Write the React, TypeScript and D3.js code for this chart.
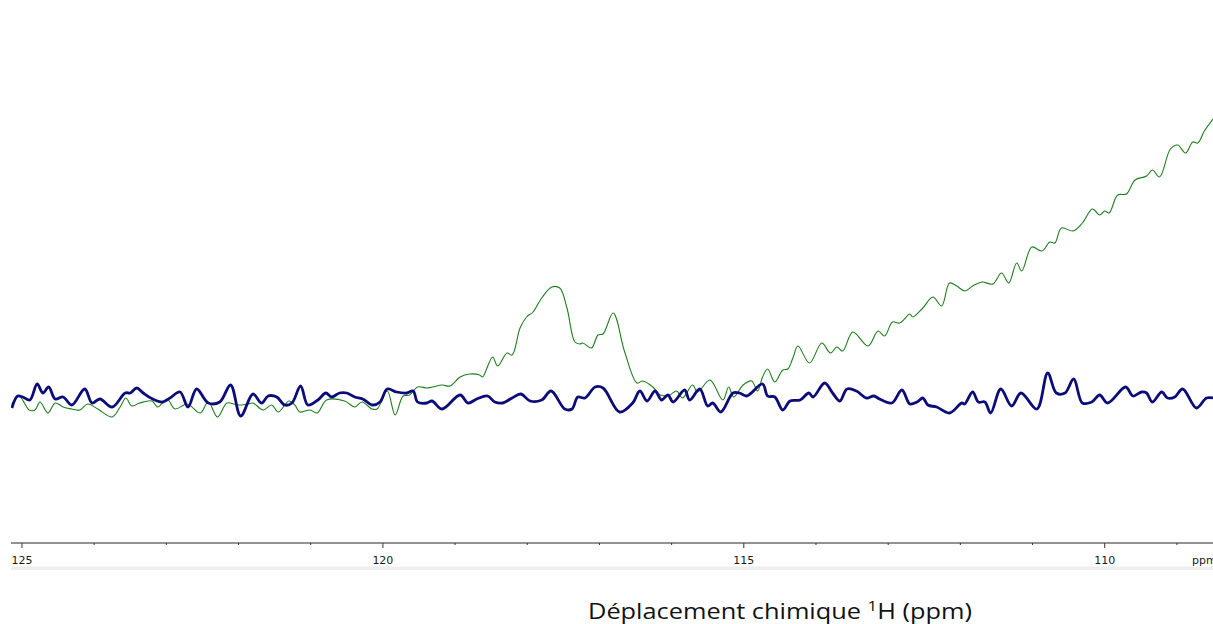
import React from "react";
import * as d3 from "d3";

// Chemical shift axis ticks (ppm)
const majorTicks = [125, 120, 115, 110];
const minorTicks = [124, 123, 122, 121, 119, 118, 117, 116, 114, 113, 112, 111, 109];

// Navy trace (ppm, intensity)
const bluePpm = [125.14, 125.06, 124.99, 124.89, 124.79, 124.71, 124.63, 124.54, 124.43, 124.31, 124.13, 124.03, 123.92, 123.75, 123.57, 123.5, 123.41, 123.32, 123.19, 123.05, 122.95, 122.81, 122.7, 122.58, 122.42, 122.26, 122.11, 121.97, 121.8, 121.68, 121.59, 121.47, 121.36, 121.26, 121.14, 121.04, 120.9, 120.79, 120.71, 120.6, 120.5, 120.39, 120.28, 120.14, 120.04, 119.94, 119.81, 119.67, 119.58, 119.52, 119.39, 119.32, 119.18, 118.93, 118.82, 118.7, 118.55, 118.45, 118.34, 118.21, 118.09, 117.96, 117.8, 117.67, 117.48, 117.38, 117.3, 117.2, 117.06, 116.95, 116.72, 116.54, 116.44, 116.34, 116.23, 116.14, 116.05, 115.98, 115.82, 115.75, 115.61, 115.5, 115.43, 115.32, 115.15, 115.06, 114.96, 114.74, 114.67, 114.57, 114.46, 114.36, 114.22, 114.1, 114.04, 113.88, 113.77, 113.67, 113.57, 113.44, 113.3, 113.2, 113.12, 112.95, 112.81, 112.7, 112.6, 112.52, 112.45, 112.33, 112.15, 111.98, 111.94, 111.83, 111.75, 111.66, 111.58, 111.44, 111.29, 111.16, 110.94, 110.79, 110.67, 110.55, 110.43, 110.31, 110.18, 110.07, 109.96, 109.71, 109.61, 109.49, 109.42, 109.34, 109.21, 109.13, 109.03, 108.92, 108.73, 108.59, 108.5];
const blueInt = [-8, 4, 3, 0, 16, 7, 13, 1, 3, -5, 11, -3, 1, -7, 7, 7, 12, 7, 1, -2, 2, 8, -7, 11, -3, -2, 15, -16, 6, -3, 4, 3, -5, -3, 14, -5, 0, 7, 3, 7, 7, 3, 1, -5, -2, 11, 8, 7, 9, -2, -3, -1, -9, 5, -3, 1, 4, -2, -3, 2, 6, -1, 0, 9, -9, -9, 3, 2, 13, 12, -12, -3, 9, -1, 9, 0, 5, -2, 10, 0, 11, -6, -3, -12, 7, 7, 4, 16, 4, 3, -10, -1, 0, 7, 3, 17, 7, -1, 11, 9, 2, 4, 1, -3, 10, -4, -2, 2, -5, -7, -13, -3, -4, 8, -2, -2, -13, 11, -6, 7, -9, 27, 7, 7, 21, -3, -2, 5, -3, 13, 4, 8, 7, -2, 8, 2, 3, 11, -8, 2, 2];

// Green trace (ppm, intensity)
const greenPpm = [125.14, 125.04, 124.9, 124.82, 124.75, 124.64, 124.54, 124.43, 124.31, 124.2, 124.09, 123.95, 123.75, 123.64, 123.56, 123.48, 123.37, 123.2, 123.12, 122.99, 122.88, 122.71, 122.53, 122.42, 122.29, 122.16, 122.02, 121.87, 121.8, 121.66, 121.54, 121.45, 121.3, 121.22, 121.15, 121.01, 120.91, 120.78, 120.53, 120.39, 120.29, 120.15, 120.08, 119.94, 119.83, 119.72, 119.63, 119.52, 119.39, 119.31, 119.18, 119.07, 118.93, 118.8, 118.66, 118.62, 118.48, 118.41, 118.28, 118.21, 118.1, 118.01, 117.92, 117.8, 117.66, 117.55, 117.45, 117.34, 117.27, 117.23, 117.11, 117.02, 116.95, 116.81, 116.65, 116.48, 116.4, 116.26, 116.16, 116.03, 115.93, 115.85, 115.71, 115.64, 115.47, 115.29, 115.21, 115.14, 115.01, 114.89, 114.81, 114.74, 114.67, 114.57, 114.46, 114.39, 114.32, 114.25, 114.09, 113.92, 113.8, 113.71, 113.63, 113.49, 113.28, 113.14, 113.05, 112.94, 112.84, 112.7, 112.66, 112.52, 112.38, 112.26, 112.15, 112.05, 111.94, 111.83, 111.7, 111.55, 111.43, 111.33, 111.22, 111.15, 111.01, 110.87, 110.76, 110.69, 110.6, 110.44, 110.31, 110.17, 110.07, 110.0, 109.94, 109.82, 109.7, 109.58, 109.42, 109.34, 109.24, 109.09, 108.99, 108.88, 108.78, 108.71, 108.62, 108.5];
const greenInt = [-4, 4, -10, -10, -2, -13, -3, -7, -9, -10, -4, -9, -17, -7, 2, -6, -3, -1, -7, 1, -9, -4, -13, -2, -17, -3, -5, -4, -3, -10, -5, -12, -1, -5, -12, -10, -13, 0, -1, -7, -2, -9, -9, 9, -15, 4, 5, 13, 12, 13, 15, 14, 23, 26, 25, 23, 43, 34, 47, 45, 72, 83, 88, 102, 113, 112, 92, 58, 56, 57, 52, 65, 66, 87, 48, 17, 19, 13, 5, 5, 9, 2, 15, 8, 20, 0, 13, 3, 15, 19, 9, 23, 31, 18, 30, 31, 42, 54, 37, 57, 47, 53, 49, 68, 54, 69, 64, 78, 77, 86, 83, 92, 103, 94, 117, 114, 109, 114, 118, 116, 127, 117, 137, 129, 153, 149, 158, 157, 172, 169, 177, 191, 185, 189, 187, 205, 206, 220, 224, 230, 223, 251, 255, 247, 258, 257, 269, 281];

const axisTitle = "Déplacement chimique ";
const axisTitleSup = "1";
const axisTitleEnd = "H (ppm)";
const unitLabel = "ppm";

const W = 1213;
const H = 624;
const plotLeft = 11;
const plotRight = 1213;

export default function App() {
  const x = d3.scaleLinear().domain([125.152, 108.5]).range([plotLeft, plotRight]);
  const y = d3.scaleLinear().domain([0, 300]).range([400, 100]);
  const axisY = 543;

  const line = d3
    .line<[number, number]>()
    .x((d) => x(d[0]))
    .y((d) => y(d[1]))
    .curve(d3.curveCatmullRom.alpha(0.5));

  const greenData = greenPpm.map((p, i) => [p, greenInt[i]] as [number, number]);
  const blueData = bluePpm.map((p, i) => [p, blueInt[i]] as [number, number]);

  return (
    <svg
      width={W}
      height={H}
      style={{ position: "absolute", left: 0, top: 0, background: "#fff" }}
    >
      <defs>
        <clipPath id="plotclip">
          <rect x={plotLeft} y={0} width={plotRight - plotLeft} height={axisY - 5} />
        </clipPath>
      </defs>
      <g clipPath="url(#plotclip)">
        <path d={line(greenData) || ""} fill="none" stroke="#1f7d1f" strokeWidth={1.1} />
        <path d={line(blueData) || ""} fill="none" stroke="#0b0b7a" strokeWidth={2.8} strokeLinejoin="round" />
      </g>

      {/* axis */}
      <line x1={plotLeft} x2={plotRight} y1={axisY} y2={axisY} stroke="#6e6e6e" strokeWidth={1.5} />
      {minorTicks.map((t) => (
        <line key={"m" + t} x1={x(t)} x2={x(t)} y1={axisY} y2={axisY + 2} stroke="#333" strokeWidth={1} />
      ))}
      {majorTicks.map((t) => (
        <g key={"M" + t}>
          <line x1={x(t)} x2={x(t)} y1={axisY} y2={axisY + 5} stroke="#333" strokeWidth={1} />
          <text
            x={x(t)}
            y={564}
            textAnchor="middle"
            fontFamily="DejaVu Sans, sans-serif"
            fontSize={11}
            fill="#1a1a1a"
          >
            {t}
          </text>
        </g>
      ))}
      <text x={1192} y={564} fontFamily="DejaVu Sans, sans-serif" fontSize={11} fill="#1a1a1a">
        {unitLabel}
      </text>
      <rect x={plotLeft} y={566.5} width={plotRight - plotLeft} height={3.5} fill="#eeeeee" />

      <text
        x={588}
        y={619}
        fontFamily="'Open Sans', sans-serif"
        fontSize={21}
        fill="#111"
        textLength={384}
        lengthAdjust="spacingAndGlyphs"
      >
        {axisTitle}
        <tspan fontSize={14} dy={-8}>{axisTitleSup}</tspan>
        <tspan dy={8}>{axisTitleEnd}</tspan>
      </text>
    </svg>
  );
}
